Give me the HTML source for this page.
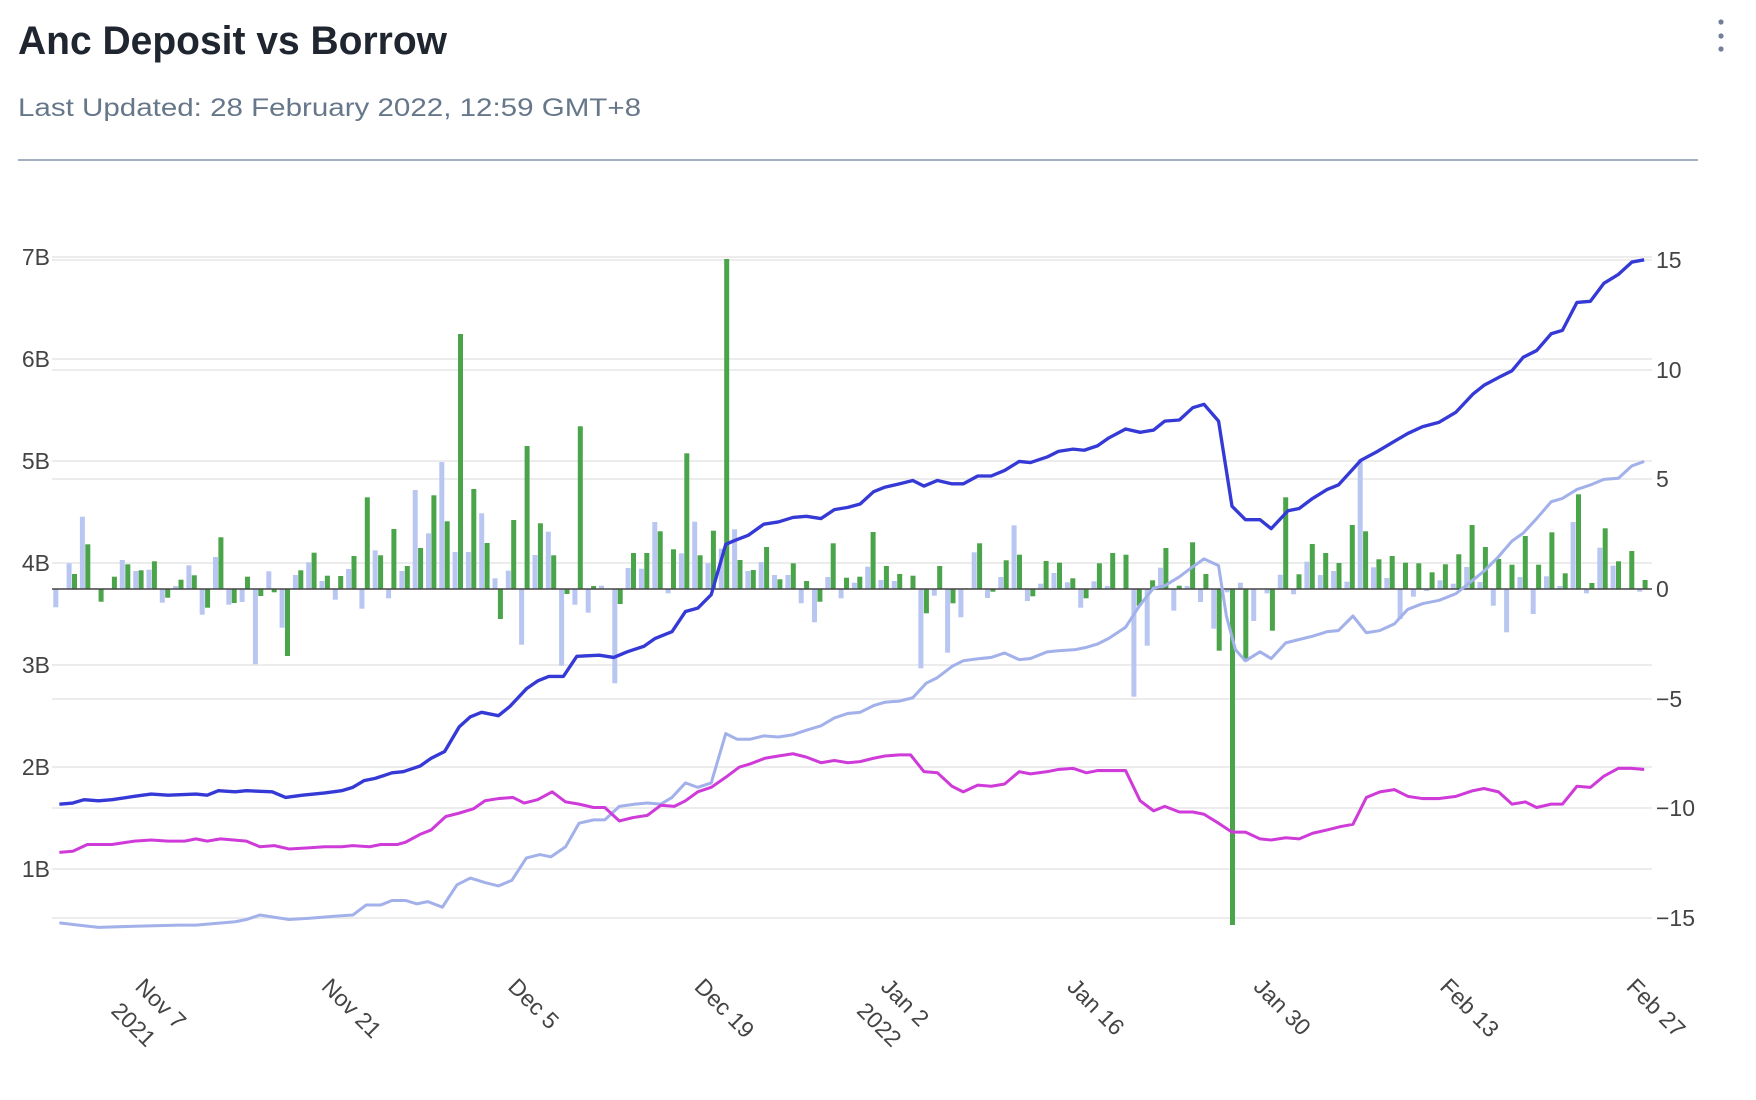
<!DOCTYPE html>
<html><head><meta charset="utf-8"><style>
html,body{margin:0;padding:0;background:#fff;}
svg{display:block;font-family:"Liberation Sans",sans-serif;}
</style></head><body>
<svg id="s" width="1756" height="1100" xmlns="http://www.w3.org/2000/svg">
<defs><clipPath id="c"><rect x="0" y="0" width="1699" height="1100"/></clipPath></defs>
<text x="18" y="54" font-size="40" font-weight="600" fill="#1f2630" textLength="429" lengthAdjust="spacingAndGlyphs">Anc Deposit vs Borrow</text>
<text x="18" y="116" font-size="25" fill="#66778a" textLength="623" lengthAdjust="spacingAndGlyphs">Last Updated: 28 February 2022, 12:59 GMT+8</text>
<line x1="18" y1="160" x2="1698" y2="160" stroke="#a3b0c2" stroke-width="2"/>
<circle cx="1721" cy="22" r="2.6" fill="#718096"/><circle cx="1721" cy="36" r="2.6" fill="#718096"/><circle cx="1721" cy="49" r="2.6" fill="#718096"/>
<g stroke="#ececec" stroke-width="2">
<line x1="52" x2="1652" y1="257" y2="257"/><line x1="52" x2="1652" y1="359" y2="359"/><line x1="52" x2="1652" y1="461" y2="461"/><line x1="52" x2="1652" y1="563" y2="563"/><line x1="52" x2="1652" y1="665" y2="665"/><line x1="52" x2="1652" y1="767" y2="767"/><line x1="52" x2="1652" y1="869" y2="869"/>
<line x1="52" x2="1652" y1="260" y2="260"/><line x1="52" x2="1652" y1="370" y2="370"/><line x1="52" x2="1652" y1="479" y2="479"/><line x1="52" x2="1652" y1="699" y2="699"/><line x1="52" x2="1652" y1="808" y2="808"/><line x1="52" x2="1652" y1="918" y2="918"/>
</g>
<g font-size="23" fill="#444" text-anchor="end">
<text x="50" y="265">7B</text><text x="50" y="367">6B</text><text x="50" y="469">5B</text><text x="50" y="571">4B</text><text x="50" y="673">3B</text><text x="50" y="775">2B</text><text x="50" y="877">1B</text>
</g>
<g font-size="23" fill="#444" clip-path="url(#c)">
<text x="1656" y="268">15</text><text x="1656" y="378">10</text><text x="1656" y="487">5</text><text x="1656" y="597">0</text><text x="1656" y="707">−5</text><text x="1656" y="816">−10</text><text x="1656" y="926">−15</text>
</g>
<g id="bars"></g>
<line x1="52" x2="1652" y1="589" y2="589" stroke="#444" stroke-width="1.6"/>
<g transform="scale(1.12)" fill="none" stroke-linejoin="round">
<polyline stroke="#a3b1ea" stroke-width="2.7" points="53,824 70,826 88,828 120,827 160,826 175,826 210,823 220,821 232,817 245,819 258,821 275,820 300,818 315,817 327,808 340,808 350,804 362,804 372,807 382,805 395,810 408,790 420,784 433,788 445,791 457,786 470,766 482,763 492,765 505,756 517,735 530,732 540,732 553,720 567,718 578,717 590,718 600,712 612,699 623,703 635,699 648,655 658,660 670,660 682,657 695,658 708,656 720,652 733,648 745,641 757,637 768,636 780,630 790,627 803,626 815,623 827,610 837,605 850,595 860,590 875,588 885,587 897,583 910,589 920,588 935,582 945,581 960,580 970,578 980,575 990,570 1005,560 1018,540 1030,525 1040,523 1053,515 1065,506 1075,499 1088,505 1095,550 1103,580 1112,590 1125,582 1135,588 1148,574 1160,571 1172,568 1185,564 1195,563 1208,550 1220,565 1232,563 1245,557 1257,544 1270,539 1285,536 1300,530 1315,518 1325,510 1338,497 1350,483 1360,476 1372,463 1385,448 1395,445 1408,437 1420,433 1432,428 1445,427 1457,416 1468,412"/>
<polyline stroke="#cf3bd9" stroke-width="2.7" points="53,761 65,760 78,754 100,754 120,751 135,750 150,751 165,751 175,749 185,751 197,749 220,751 232,756 245,755 258,758 275,757 290,756 305,756 315,755 330,756 340,754 355,754 362,752 375,745 385,741 398,729 410,726 423,722 433,715 445,713 458,712 468,717 480,714 493,707 505,716 517,718 530,721 540,721 553,733 565,730 578,728 590,719 602,720 612,715 623,707 635,703 648,694 660,685 670,682 683,677 695,675 708,673 720,676 733,681 745,679 757,681 768,680 780,677 790,675 803,674 813,674 825,689 837,690 850,702 860,707 873,701 885,702 897,700 910,689 920,691 935,689 945,687 958,686 970,690 980,688 993,688 1005,688 1018,715 1030,724 1040,720 1053,725 1065,725 1075,727 1088,735 1100,743 1112,743 1125,749 1135,750 1148,748 1160,749 1172,744 1185,741 1197,738 1208,736 1220,712 1232,707 1245,705 1257,711 1270,713 1285,713 1300,711 1315,706 1325,704 1338,707 1350,718 1362,716 1372,721 1385,718 1395,718 1408,702 1420,703 1432,693 1445,686 1457,686 1468,687"/>
<polyline stroke="#3539d6" stroke-width="3" points="53,718 65,717 75,714 88,715 100,714 120,711 135,709 150,710 175,709 185,710 195,706 210,707 220,706 243,707 255,712 270,710 290,708 305,706 315,703 325,697 335,695 350,690 360,689 375,684 385,677 397,671 410,649 420,640 430,636 445,639 455,631 470,615 480,608 490,604 503,604 515,586 535,585 548,587 560,582 575,577 585,570 600,564 612,546 623,543 635,531 648,486 655,483 668,478 682,468 695,466 708,462 720,461 733,463 745,455 757,453 768,450 780,439 790,435 803,432 815,429 825,434 837,429 850,432 860,432 873,425 885,425 897,420 910,412 920,413 935,408 945,403 958,401 968,402 980,398 990,391 1005,383 1018,386 1030,384 1040,376 1053,375 1065,364 1075,361 1088,376 1100,452 1112,464 1125,464 1135,472 1150,456 1160,454 1172,445 1185,437 1195,433 1215,411 1230,403 1245,394 1257,387 1270,381 1285,377 1300,368 1315,352 1325,344 1340,336 1350,331 1360,319 1372,313 1385,298 1395,295 1408,270 1420,269 1432,253 1445,245 1457,234 1468,232"/>
</g>
<g id="xt" font-size="23" fill="#444"></g>
</svg>
<script>
var B=[-55,77,217,2,1,87,54,58,-41,9,71,-77,96,-47,-39,-226,53,-116,42,80,24,-32,60,-59,116,-28,54,297,167,381,111,111,227,32,55,-167,102,172,-230,-47,-71,10,-283,63,61,201,-13,107,202,77,121,179,54,81,42,42,-43,-100,36,-28,19,67,27,24,0,-238,-20,-191,-85,110,-27,36,191,-36,16,48,20,-56,23,9,0,-323,-170,64,-65,9,-39,-119,-10,19,-96,-13,43,-16,82,42,54,22,389,65,33,-90,-23,-6,26,16,66,21,-50,-130,36,-75,38,9,201,-13,124,70,2,-8];
var G=[0,45,134,-38,37,74,56,83,-26,28,41,-56,155,-42,37,-21,-10,-201,56,109,40,39,99,275,101,180,69,123,281,203,765,300,138,-90,207,429,197,101,-15,488,9,1,-45,108,108,173,119,407,101,175,990,87,57,126,29,77,24,-38,137,34,37,171,69,45,40,-73,69,-43,2,137,-8,86,103,-22,84,79,32,-28,77,108,103,-50,26,123,10,140,45,-185,-1008,-217,0,-125,275,44,135,108,78,192,173,89,99,79,77,50,74,104,192,126,90,73,159,73,170,47,284,18,182,83,114,27];
var g=document.getElementById("bars"),h="";
function r(x,v,c){var hh=v/3;if(Math.abs(hh)<0.4)return "";var y=hh>0?589-hh:589;return '<rect x="'+x.toFixed(1)+'" y="'+y.toFixed(1)+'" width="5" height="'+Math.abs(hh).toFixed(1)+'" fill="'+c+'"/>';}
for(var i=0;i<120;i++){var c=58.5+13.31*i;h+=r(c-5.2,B[i],"#b9c6f1");h+=r(c+0.2,G[i],"#4aa44a");}
g.innerHTML=h;
var L=[["Nov 7","2021"],["Nov 21"],["Dec 5"],["Dec 19"],["Jan 2","2022"],["Jan 16"],["Jan 30"],["Feb 13"],["Feb 27"]],t="";
for(var k=0;k<L.length;k++){var x=134+186.4*k,y=988;
t+='<text transform="translate('+x+','+y+') rotate(45)">'+L[k][0]+'</text>';
if(L[k][1])t+='<text transform="translate('+(x-24)+','+(y+24)+') rotate(45)">'+L[k][1]+'</text>';}
document.getElementById("xt").innerHTML=t;
</script>
</body></html>
